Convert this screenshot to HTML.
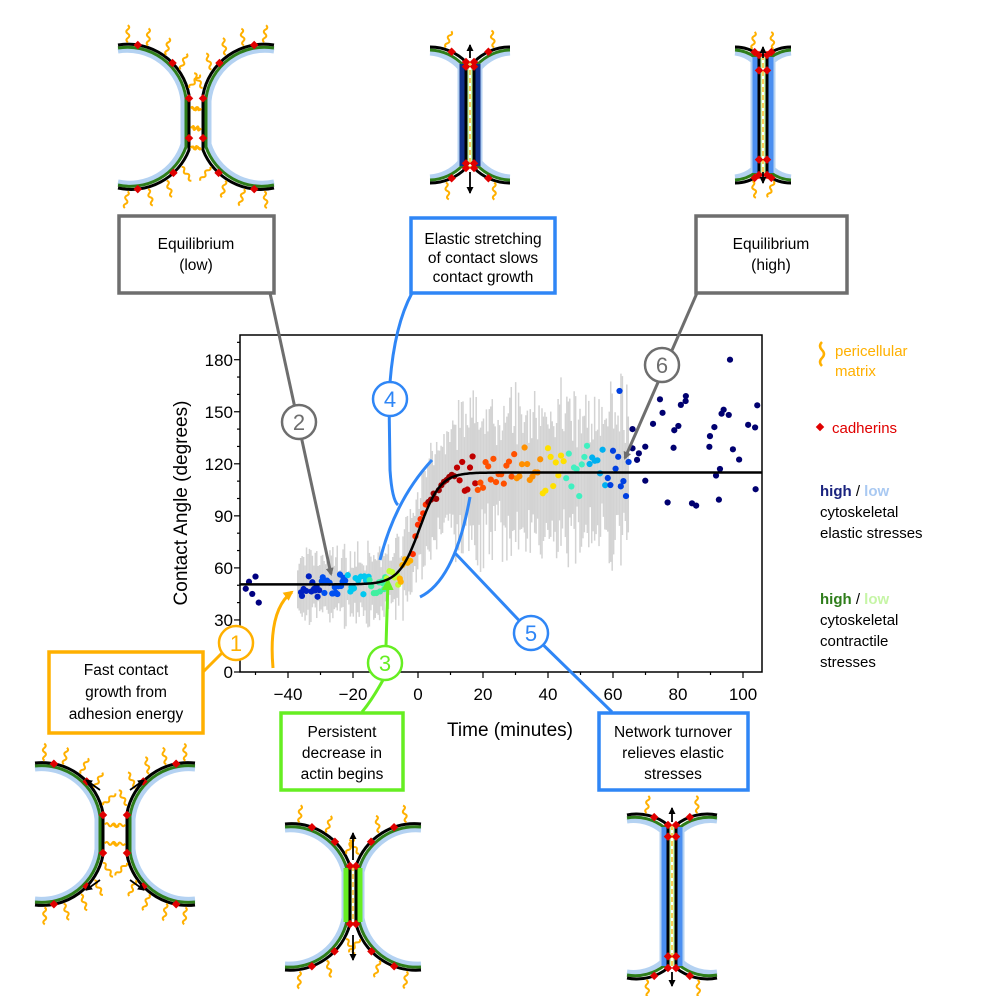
<!DOCTYPE html>
<html><head><meta charset="utf-8">
<style>
html,body{margin:0;padding:0;background:#fff;}
svg{display:block;font-family:"Liberation Sans",Arial,sans-serif;}
</style></head>
<body>
<svg id="s" width="996" height="996" viewBox="0 0 996 996" xmlns="http://www.w3.org/2000/svg">
<defs>
<marker id="ag" markerWidth="8" markerHeight="8" refX="6" refY="4" orient="auto" markerUnits="userSpaceOnUse"><path d="M0,0 L8,4 L0,8 Z" fill="#6e6e6e"/></marker>
<marker id="ao" markerWidth="10" markerHeight="10" refX="8" refY="5" orient="auto" markerUnits="userSpaceOnUse"><path d="M0,0 L10,5 L0,10 Z" fill="#ffb000"/></marker>
<marker id="agr" markerWidth="12" markerHeight="12" refX="10" refY="6" orient="auto" markerUnits="userSpaceOnUse"><path d="M0,0 L12,6 L0,12 Z" fill="#66ee22"/></marker>
<marker id="ab" markerWidth="7" markerHeight="7" refX="6" refY="3.5" orient="auto" markerUnits="userSpaceOnUse"><path d="M0,0 L7,3.5 L0,7 Z" fill="#000"/></marker>
</defs>
<g id="bars"></g>
<g id="dots"></g>
<g id="cells"></g>
<rect x="240" y="335" width="522" height="337" fill="none" stroke="#000" stroke-width="1.5"/>
<g id="ticks" stroke="#000" stroke-width="1.2"></g>
<g font-size="17" fill="#000" text-anchor="end">
<text x="233" y="678">0</text><text x="233" y="626">30</text><text x="233" y="574">60</text><text x="233" y="522">90</text><text x="233" y="470">120</text><text x="233" y="418">150</text><text x="233" y="366">180</text>
</g>
<g font-size="17" fill="#000" text-anchor="middle">
<text x="288" y="700">−40</text><text x="353" y="700">−20</text><text x="418" y="700">0</text><text x="483" y="700">20</text><text x="548" y="700">40</text><text x="613" y="700">60</text><text x="678" y="700">80</text><text x="743" y="700">100</text>
</g>
<text x="510" y="736" font-size="19" text-anchor="middle">Time (minutes)</text>
<text transform="translate(187,503) rotate(-90)" font-size="19" text-anchor="middle">Contact Angle (degrees)</text>

<line x1="270" y1="293" x2="331" y2="574" stroke="#6e6e6e" stroke-width="3" marker-end="url(#ag)"/>
<line x1="697" y1="293" x2="625" y2="458" stroke="#6e6e6e" stroke-width="3" marker-end="url(#ag)"/>
<path d="M412 293 Q392 330 389 399 L390 470 Q392 500 398 505" fill="none" stroke="#2f86f6" stroke-width="3"/>
<path d="M380 560 Q395 500 432 460" fill="none" stroke="#2f86f6" stroke-width="3"/>
<path d="M420 597 Q455 580 470 497" fill="none" stroke="#2f86f6" stroke-width="3"/>
<path d="M455 553 L531 633 L612 712" fill="none" stroke="#2f86f6" stroke-width="3"/>
<line x1="203" y1="672" x2="222" y2="653" stroke="#ffb000" stroke-width="3"/>
<path d="M273 668 Q268 610 292 592" fill="none" stroke="#ffb000" stroke-width="3" marker-end="url(#ao)"/>
<line x1="386" y1="646" x2="388" y2="580" stroke="#66ee22" stroke-width="3" marker-end="url(#agr)"/>
<path d="M383 680 Q372 700 362 712" fill="none" stroke="#66ee22" stroke-width="3"/>

<path id="fit" fill="none" stroke="#000" stroke-width="2.5"/>

<g font-size="22" text-anchor="middle" stroke-width="2.5" fill="#fff">
<circle cx="236" cy="643" r="17" stroke="#ffb000"/><text x="236" y="651" fill="#ffb000" stroke="none">1</text>
<circle cx="299" cy="422" r="17" stroke="#6e6e6e"/><text x="299" y="430" fill="#6e6e6e" stroke="none">2</text>
<circle cx="385" cy="663" r="17" stroke="#66ee22"/><text x="385" y="671" fill="#66ee22" stroke="none">3</text>
<circle cx="390" cy="399" r="17" stroke="#2f86f6"/><text x="390" y="407" fill="#2f86f6" stroke="none">4</text>
<circle cx="531" cy="633" r="17" stroke="#2f86f6"/><text x="531" y="641" fill="#2f86f6" stroke="none">5</text>
<circle cx="662" cy="365" r="17" stroke="#6e6e6e"/><text x="662" y="373" fill="#6e6e6e" stroke="none">6</text>
</g>

<g fill="#fff" stroke-width="3.5">
<rect x="119" y="216" width="155" height="77" stroke="#6e6e6e"/>
<rect x="411" y="218" width="144" height="75" stroke="#2f86f6"/>
<rect x="696" y="216" width="151" height="77" stroke="#6e6e6e"/>
<rect x="49" y="652" width="154" height="81" stroke="#ffb000"/>
<rect x="281" y="713" width="122" height="77" stroke="#66ee22"/>
<rect x="599" y="713" width="149" height="77" stroke="#2f86f6"/>
</g>
<g font-size="15.5" text-anchor="middle" fill="#000">
<text x="196" y="249">Equilibrium</text><text x="196" y="270">(low)</text>
<text x="483" y="244">Elastic stretching</text><text x="483" y="263">of contact slows</text><text x="483" y="282">contact growth</text>
<text x="771" y="249">Equilibrium</text><text x="771" y="270">(high)</text>
<text x="126" y="675">Fast contact</text><text x="126" y="697">growth from</text><text x="126" y="719">adhesion energy</text>
<text x="342" y="737">Persistent</text><text x="342" y="758">decrease in</text><text x="342" y="779">actin begins</text>
<text x="673" y="737">Network turnover</text><text x="673" y="758">relieves elastic</text><text x="673" y="779">stresses</text>
</g>

<path d="M822 342 q-4 4 0 8 q4 4 0 8 q-4 4 0 8" fill="none" stroke="#ffb000" stroke-width="2.5"/>
<g font-size="15" fill="#000">
<text x="835" y="356" fill="#ffb000">pericellular</text><text x="835" y="376" fill="#ffb000">matrix</text>
<rect x="817" y="424" width="6" height="6" fill="#e00000" transform="rotate(45 820 427)"/>
<text x="832" y="433" fill="#e00000">cadherins</text>
<text x="820" y="496"><tspan font-weight="bold" fill="#1a237e">high</tspan> / <tspan font-weight="bold" fill="#a9c9f2">low</tspan></text>
<text x="820" y="517">cytoskeletal</text><text x="820" y="538">elastic stresses</text>
<text x="820" y="604"><tspan font-weight="bold" fill="#2e7d1a">high</tspan> / <tspan font-weight="bold" fill="#c6f5a6">low</tspan></text>
<text x="820" y="625">cytoskeletal</text><text x="820" y="646">contractile</text><text x="820" y="667">stresses</text>
</g>
</svg>
<script>
(function(){
var NS="http://www.w3.org/2000/svg";
function el(p,tag,a){var e=document.createElementNS(NS,tag);for(var k in a)e.setAttribute(k,a[k]);p.appendChild(e);return e;}
var seed=7;function rnd(){seed=(seed*16807)%2147483647;return (seed-1)/2147483646;}
function X(t){return 418+3.25*t;}function Y(a){return 672-1.735*a;}
function fit(t){return 50.5+64.5/(1+Math.exp(-(t-0.5)/3.2));}
var tk=document.getElementById('ticks');
for(var a=0;a<=190;a+=10){var L=(a%30==0)?6:3;el(tk,'line',{x1:240-L,y1:Y(a),x2:240,y2:Y(a)});}
for(var t=-50;t<=105;t+=10){var L=(t%20==0)?6:3;if(X(t)<240||X(t)>762)continue;el(tk,'line',{x1:X(t),y1:672,x2:X(t),y2:672+L});}
var bg=document.getElementById('bars');
for(var t=-37;t<=65;t+=0.45){
 var m=fit(t);var sp=(t<-5?12:(t<10?20:26))+rnd()*(t>10?24:12);
 var lo=m-sp*(0.6+rnd()*0.6),hi=m+sp*(0.5+rnd()*0.6);
 if(t>20&&rnd()<0.12)hi+=15;
 el(bg,'line',{x1:X(t),x2:X(t),y1:Y(Math.max(lo,18)),y2:Y(Math.min(hi,172)),stroke:'#d3d3d3','stroke-width':1.5});
}
var d='';for(var t=-55;t<=106;t+=0.5){d+=(d?'L':'M')+X(t).toFixed(1)+' '+Y(fit(t)).toFixed(1);}
document.getElementById('fit').setAttribute('d',d);
function col(t){
 var s=[[-55,'#000080'],[-40,'#0020c0'],[-30,'#0050f0'],[-22,'#00c8f0'],[-15,'#40f0a0'],[-10,'#c0ff30'],[-6,'#ffb000'],[-2,'#ff3000'],[3,'#a00000'],[12,'#c00000'],[18,'#ff5000'],[30,'#ff9000'],[38,'#ffe000'],[45,'#40f0c0'],[52,'#00b0f0'],[58,'#0040e0'],[66,'#000070'],[110,'#000070']];
 for(var i=s.length-1;i>=0;i--)if(t>=s[i][0])return s[i][1];return s[0][1];}
var dg=document.getElementById('dots');
function dot(t,a){el(dg,'circle',{cx:X(t),cy:Y(a),r:3.1,fill:col(t)});}
[[-53,48],[-52,52],[-51,45],[-50,55],[-49,40]].forEach(function(p){dot(p[0],p[1]);});
for(var t=-36;t<=65;t+=0.8){
 var m=fit(t);var sp=t<-5?6:(t<12?5:(t<30?10:12));
 dot(t,m+(rnd()-0.5)*2*sp+(t>20?(rnd()-0.4)*12:0));
 if(t<-5&&rnd()<0.5)dot(t+0.3,m+(rnd()-0.6)*12);
}
for(var i=0;i<32;i++){var t=66+rnd()*40;dot(t,95+rnd()*65);}
dot(96,180);dot(62,162);dot(66,140);
var cg=document.getElementById('cells');
function pth(cx,top,bot,hg,h,hb,Rc,span,s){
 var xe=cx+s*span,xv=cx+s*hg;var sw=s<0?1:0;
 return 'M'+xe+' '+top+' A'+Rc+' '+Rc+' 0 0 '+sw+' '+xv+' '+(top+h)+' L'+xv+' '+(bot-hb)+' A'+Rc+' '+Rc+' 0 0 '+sw+' '+xe+' '+bot;}
function squig(x,y,ang,len){
 var g=el(cg,'g',{transform:'translate('+x+','+y+') rotate('+ang+')'});
 var d='M0 0';var n=4,st=len/n;for(var i=0;i<n;i++){d+=' q'+(st/2)+' '+(i%2?3:-3)+' '+st+' 0';}
 el(g,'path',{d:d,fill:'none',stroke:'#ffb000','stroke-width':2});}
function dia(x,y){el(cg,'rect',{x:x-3,y:y-3,width:6,height:6,fill:'#e00000',transform:'rotate(45 '+x+' '+y+')'});}
function cell(o){
 var cx=o.cx,top=o.top,bot=o.bot,hg=o.hg,h=o.h,hb=o.hb||o.h,Rc=o.Rc,sp=o.span;
 if(o.fused){
  el(cg,'rect',{x:cx-hg,y:top+h,width:2*hg,height:bot-hb-top-h,fill:'#c6f5a6'});
  el(cg,'line',{x1:cx,x2:cx,y1:top+h,y2:bot-hb,stroke:'#fff','stroke-width':2});
  el(cg,'line',{x1:cx,x2:cx,y1:top+h,y2:bot-hb,stroke:'#ffb000','stroke-width':1.3,'stroke-dasharray':'5 3'});
 }
 [-1,1].forEach(function(s){
  el(cg,'path',{d:pth(cx,top+6,bot-6,hg+6,h,hb,Rc-6,sp,s),fill:'none',stroke:'#b4d2f2','stroke-width':5});
  el(cg,'path',{d:pth(cx,top+3,bot-3,hg+3,h,hb,Rc-3,sp,s),fill:'none',stroke:'#2e7d1a','stroke-width':3});
  if(o.fused){el(cg,'line',{x1:cx+s*(hg+4),x2:cx+s*(hg+4),y1:top+h+2,y2:bot-hb-2,stroke:o.strip,'stroke-width':5});}
  var p=el(cg,'path',{d:pth(cx,top,bot,hg,h,hb,Rc,sp,s),fill:'none',stroke:'#000','stroke-width':3});
  var L=p.getTotalLength();
  for(var i=0;i<o.nq;i++){
   var l=(i+0.5)/o.nq*L;var a=p.getPointAtLength(l),b=p.getPointAtLength(Math.min(L,l+1));
   var dx=b.x-a.x,dy=b.y-a.y;var ox,oy;
   if(s<0){ox=dy;oy=-dx;}else{ox=-dy;oy=dx;}
   var inC=Math.abs(a.x-(cx+s*hg))<1.5;
   if(inC&&o.fused)continue;
   var ang=Math.atan2(oy,ox)*180/Math.PI;
   if(!inC)ang=-90+(ang+90)*0.5;
   if(!inC&&a.y>(top+bot)/2)ang=90+(Math.atan2(oy,ox)*180/Math.PI-90)*0.5;
   squig(a.x+ox*2,a.y+oy*2,ang+(rnd()-0.5)*20,inC?hg*1.0+2:17);
  }
  if(o.fused){
   dia(cx+s*hg,top+h);dia(cx+s*hg,bot-hb);
   for(var k=1;k<3;k++){var l=k*0.12*L;var a=p.getPointAtLength(l);dia(a.x,a.y);var a2=p.getPointAtLength(L-l);dia(a2.x,a2.y);}
  } else {
   for(var i=0;i<o.nc;i++){var a=p.getPointAtLength((i+0.5)/o.nc*L);dia(a.x,a.y);}
  }
 });
}
cell({cx:196,top:45,bot:188,hg:7,h:50,hb:38,Rc:62,span:78,nq:12,nc:6});
cell({cx:470,top:47,bot:183,hg:4,h:15,Rc:50,span:40,nq:6,fused:1,strip:'#10308a'});
cell({cx:763,top:47,bot:183,hg:4,h:8,Rc:40,span:28,nq:5,fused:1,strip:'#4a8ef0'});
cell({cx:115,top:763,bot:905,hg:12,h:50,Rc:62,span:80,nq:12,nc:6});
cell({cx:353,top:824,bot:970,hg:3,h:42,hb:46,Rc:62,span:68,nq:8,fused:1,strip:'#66ee22'});
cell({cx:672,top:815,bot:978,hg:4,h:10,Rc:50,span:45,nq:6,fused:1,strip:'#4a8ef0'});
function arr(x1,y1,x2,y2){el(cg,'line',{x1:x1,y1:y1,x2:x2,y2:y2,stroke:'#000','stroke-width':1.8,'marker-end':'url(#ab)'});}
arr(470,58,470,45);arr(470,172,470,193);
arr(763,58,763,47);arr(763,172,763,183);
arr(353,860,353,833);arr(353,935,353,960);
arr(672,822,672,808);arr(672,972,672,986);
arr(100,790,86,780);arr(130,790,144,780);arr(100,880,86,890);arr(130,880,144,890);
})();
</script>
</body></html>
